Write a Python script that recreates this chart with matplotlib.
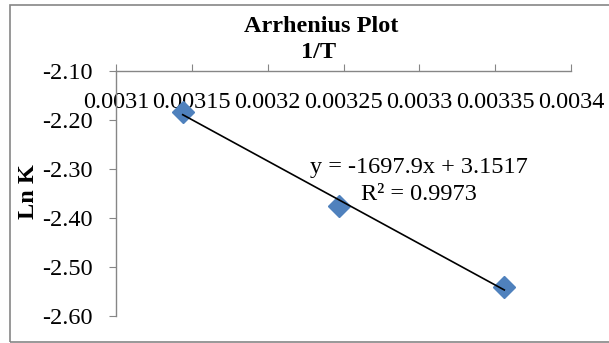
import numpy as np
import matplotlib
matplotlib.use("Agg")
import matplotlib.pyplot as plt
from matplotlib.patches import Rectangle

# Data
inv_T = [0.003144, 0.003247, 0.003356]
ln_k = [-2.183, -2.375, -2.541]
x_ticks = [0.0031, 0.00315, 0.0032, 0.00325, 0.0033, 0.00335, 0.0034]
x_tick_labels = ["0.0031", "0.00315", "0.0032", "0.00325", "0.0033", "0.00335", "0.0034"]
y_ticks = [-2.60, -2.50, -2.40, -2.30, -2.20, -2.10]
y_tick_labels = ["-2.60", "-2.50", "-2.40", "-2.30", "-2.20", "-2.10"]
title = "Arrhenius Plot"
x_label = "1/T"
y_label = "Ln K"
eq_text = "y = -1697.9x + 3.1517"
r2_text = "R² = 0.9973"

plt.rcParams['font.family'] = ['Liberation Serif', 'DejaVu Serif']
W, H = 609, 343
fig = plt.figure(figsize=(W / 100, H / 100), dpi=100)
gray = "#868686"
fs = 17.5

# outer frame
fig.patches.append(Rectangle((9.5 / W, 1 / H), (W + 10) / W, (H - 6) / H,
                             transform=fig.transFigure, fill=False,
                             edgecolor=gray, linewidth=1.2))

ax = fig.add_axes([116 / W, 1 - 316 / H, (571 - 116) / W, (316 - 71) / H])
ax.set_xlim(0.0031, 0.0034)
ax.set_ylim(-2.60, -2.10)

# trendline
coef = np.polyfit(inv_T, ln_k, 1)
xl = np.array([min(inv_T), max(inv_T)])
ax.plot(xl, np.polyval(coef, xl), color="black", linewidth=1.2, zorder=3)
ax.plot(inv_T, ln_k, linestyle="none", marker="D", markersize=11.5,
        color="#4F81BD", markeredgecolor="#4F81BD", zorder=2)

for s in ["right", "bottom"]:
    ax.spines[s].set_visible(False)
for s in ["left", "top"]:
    ax.spines[s].set_color(gray)
    ax.spines[s].set_linewidth(1.0)

ax.set_xticks(x_ticks)
ax.set_xticklabels(x_tick_labels)
ax.set_yticks(y_ticks)
ax.set_yticklabels(y_tick_labels)
ax.tick_params(axis="x", top=True, bottom=False, labeltop=True, labelbottom=False,
               direction="out", length=5, color=gray, labelsize=fs, pad=-35)
ax.tick_params(axis="y", direction="out", length=5, color=gray, labelsize=fs, pad=12)

fig.text(321 / W, 1 - 26 / H, title, ha="center", va="center",
         fontsize=fs, fontweight="bold")
fig.text(319 / W, 1 - 53 / H, x_label, ha="center", va="center",
         fontsize=fs, fontweight="bold")
fig.text(28.5 / W, 1 - 192 / H, y_label, ha="center", va="center", rotation=90,
         fontsize=fs, fontweight="bold")

ax.text(0.0033, -2.296, eq_text, ha="center", va="center", fontsize=fs)
ax.text(0.0033, -2.352, r2_text, ha="center", va="center", fontsize=fs)

fig.savefig("out.png", dpi=100)
